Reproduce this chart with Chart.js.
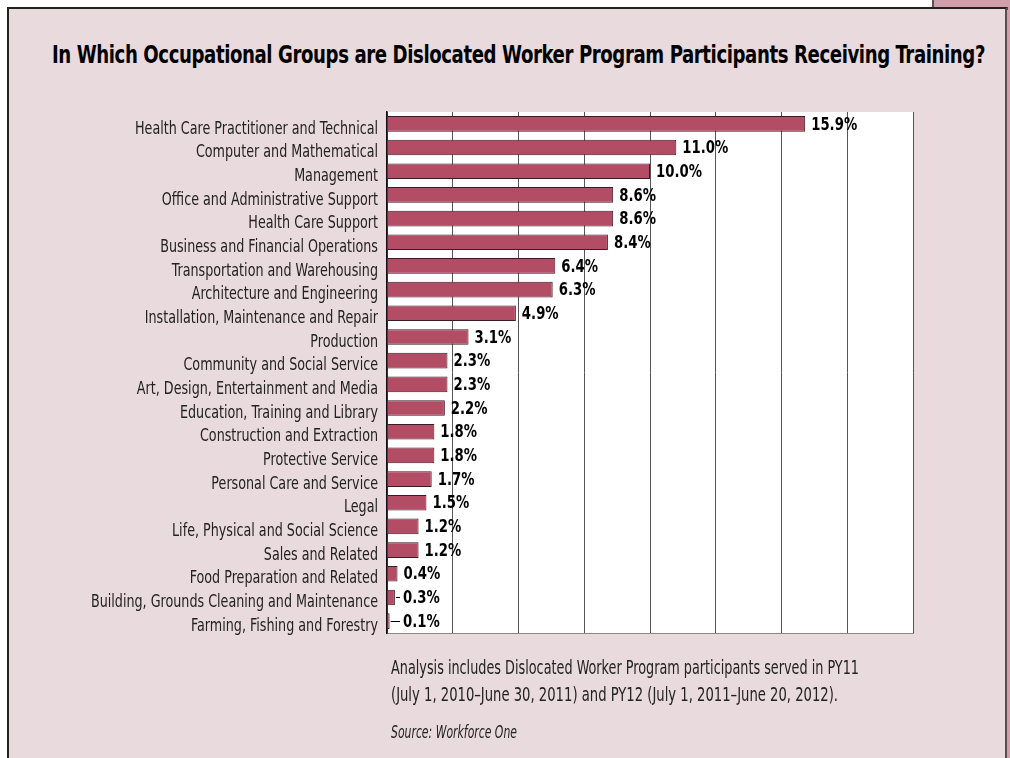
<!DOCTYPE html>
<html>
<head>
<meta charset="utf-8">
<script src="https://cdn.jsdelivr.net/npm/chart.js@4"></script>
<style>
    html, body { margin: 0; padding: 0; background: #fff; }
    body { width: 1010px; height: 758px; position: relative; overflow: hidden; font-family: "DejaVu Sans Condensed", "Liberation Sans Narrow", sans-serif; }
    #tab { position: absolute; left: 932px; top: 0; width: 78px; height: 10px; background: #d19fab; border-left: 2px solid #6b4a55; }
    #panel { position: absolute; left: 7px; top: 7px; width: 996px; height: 760px; background: #e9dadd; border-left: 2px solid #222; border-top: 2px solid #222; border-right: 3px solid #5b4a50; }
    #rightstrip { position: absolute; left: 1007px; top: 10px; width: 3px; height: 748px; background: #d19fab; }
    .fit { position: absolute; white-space: nowrap; transform-origin: 0 0; color: #222; line-height: 1; }
    #title { left: 52px; top: 42px; font-weight: bold; font-size: 25px; color: #000; letter-spacing: -0.5px; }
    #note1 { left: 391px; top: 658px; font-size: 19px; }
    #note2 { left: 391px; top: 685px; font-size: 19px; }
    #source { left: 391px; top: 723px; font-size: 18px; font-style: italic; }
    #wrap { position: absolute; left: 0; top: 0; width: 1010px; height: 758px; }
</style>
</head>
<body>
<div id="tab"></div>
<div id="panel"></div>
<div id="rightstrip"></div>
<div id="title" class="fit" data-w="933">In Which Occupational Groups are Dislocated Worker Program Participants Receiving Training?</div>
<div id="wrap"><canvas id="occupationChart" width="1010" height="758"></canvas></div>
<div id="note1" class="fit" data-w="468">Analysis includes Dislocated Worker Program participants served in PY11</div>
<div id="note2" class="fit" data-w="447">(July 1, 2010–June 30, 2011) and PY12 (July 1, 2011–June 20, 2012).</div>
<div id="source" class="fit" data-w="126">Source: Workforce One</div>
<script>
const occupations = [
    'Health Care Practitioner and Technical',
    'Computer and Mathematical',
    'Management',
    'Office and Administrative Support',
    'Health Care Support',
    'Business and Financial Operations',
    'Transportation and Warehousing',
    'Architecture and Engineering',
    'Installation, Maintenance and Repair',
    'Production',
    'Community and Social Service',
    'Art, Design, Entertainment and Media',
    'Education, Training and Library',
    'Construction and Extraction',
    'Protective Service',
    'Personal Care and Service',
    'Legal',
    'Life, Physical and Social Science',
    'Sales and Related',
    'Food Preparation and Related',
    'Building, Grounds Cleaning and Maintenance',
    'Farming, Fishing and Forestry'
];
const trainingShare = [15.9, 11.0, 10.0, 8.6, 8.6, 8.4, 6.4, 6.3, 4.9, 3.1, 2.3, 2.3, 2.2, 1.8, 1.8, 1.7, 1.5, 1.2, 1.2, 0.4, 0.3, 0.1];
const axisMax = 20;
const axisStep = 2.5;

const FONT = '"DejaVu Sans Condensed", "Liberation Sans Narrow", sans-serif';

// squeeze html texts to the reference widths (no condensed font installed)
document.querySelectorAll('.fit').forEach((el) => {
    const w = el.getBoundingClientRect().width;
    el.style.transform = `scaleX(${Number(el.dataset.w) / w})`;
});

const plotBackground = {
    id: 'plotBackground',
    beforeDraw(chart) {
        const { ctx, chartArea: a } = chart;
        ctx.save();
        ctx.fillStyle = '#ffffff';
        ctx.fillRect(a.left, a.top, a.right - a.left, a.bottom - a.top);
        ctx.restore();
    }
};

// category names drawn narrow, right aligned against the axis
const narrowCategoryLabels = {
    id: 'narrowCategoryLabels',
    afterDraw(chart) {
        const { ctx } = chart;
        const yScale = chart.scales.y;
        ctx.save();
        ctx.font = '18px ' + FONT;
        const squeeze = 243 / ctx.measureText(occupations[0]).width;
        const right = chart.chartArea.left - 9;
        ctx.fillStyle = '#222';
        ctx.textAlign = 'right';
        ctx.textBaseline = 'middle';
        occupations.forEach((name, i) => {
            const y = yScale.getPixelForTick(i) + 5;
            ctx.save();
            ctx.translate(right, y);
            ctx.scale(squeeze, 1);
            ctx.fillText(name, 0, 0);
            ctx.restore();
        });
        ctx.restore();
    }
};

// value labels with small leader lines for short bars
const valueLabels = {
    id: 'valueLabels',
    afterDatasetsDraw(chart) {
        const { ctx } = chart;
        const meta = chart.getDatasetMeta(0);
        const minX = chart.scales.x.getPixelForValue(0) + 16;
        ctx.save();
        ctx.font = 'bold 18px ' + FONT;
        const squeeze = 46 / ctx.measureText('15.9%').width;
        ctx.fillStyle = '#000';
        ctx.textBaseline = 'middle';
        ctx.strokeStyle = '#000';
        ctx.lineWidth = 1;
        meta.data.forEach((bar, i) => {
            const end = bar.x;
            let tx = end + 6;
            if (tx < minX) {
                tx = minX;
                ctx.beginPath();
                ctx.moveTo(end + 1, Math.round(bar.y) + 0.5);
                ctx.lineTo(tx - 3, Math.round(bar.y) + 0.5);
                ctx.stroke();
            }
            ctx.save();
            ctx.translate(tx, bar.y + 1);
            ctx.scale(squeeze, 1);
            ctx.fillText(trainingShare[i].toFixed(1) + '%', 0, 0);
            ctx.restore();
        });
        ctx.restore();
    }
};

const ctx = document.getElementById('occupationChart').getContext('2d');
new Chart(ctx, {
    type: 'bar',
    data: {
        labels: occupations,
        datasets: [{
            data: trainingShare,
            backgroundColor: '#b34d66',
            borderColor: '#3a1a24',
            borderWidth: 1,
            borderSkipped: 'left',
            categoryPercentage: 0.66,
            barPercentage: 1
        }]
    },
    options: {
        indexAxis: 'y',
        responsive: false,
        animation: false,
        layout: { padding: { left: 0, top: 112, right: 97, bottom: 125 } },
        plugins: { legend: { display: false }, tooltip: { enabled: false } },
        scales: {
            x: {
                min: 0,
                max: axisMax,
                ticks: { display: false, stepSize: axisStep },
                grid: { color: '#555', lineWidth: 1, drawTicks: false },
                border: { display: true, color: '#888', width: 1 },
                afterFit: (s) => { s.height = 0; }
            },
            y: {
                ticks: { display: false },
                grid: { display: false, drawTicks: false },
                border: { display: true, color: '#111', width: 1.5 },
                afterFit: (s) => { s.width = 387; }
            }
        }
    },
    plugins: [plotBackground, narrowCategoryLabels, valueLabels]
});
</script>
</body>
</html>
